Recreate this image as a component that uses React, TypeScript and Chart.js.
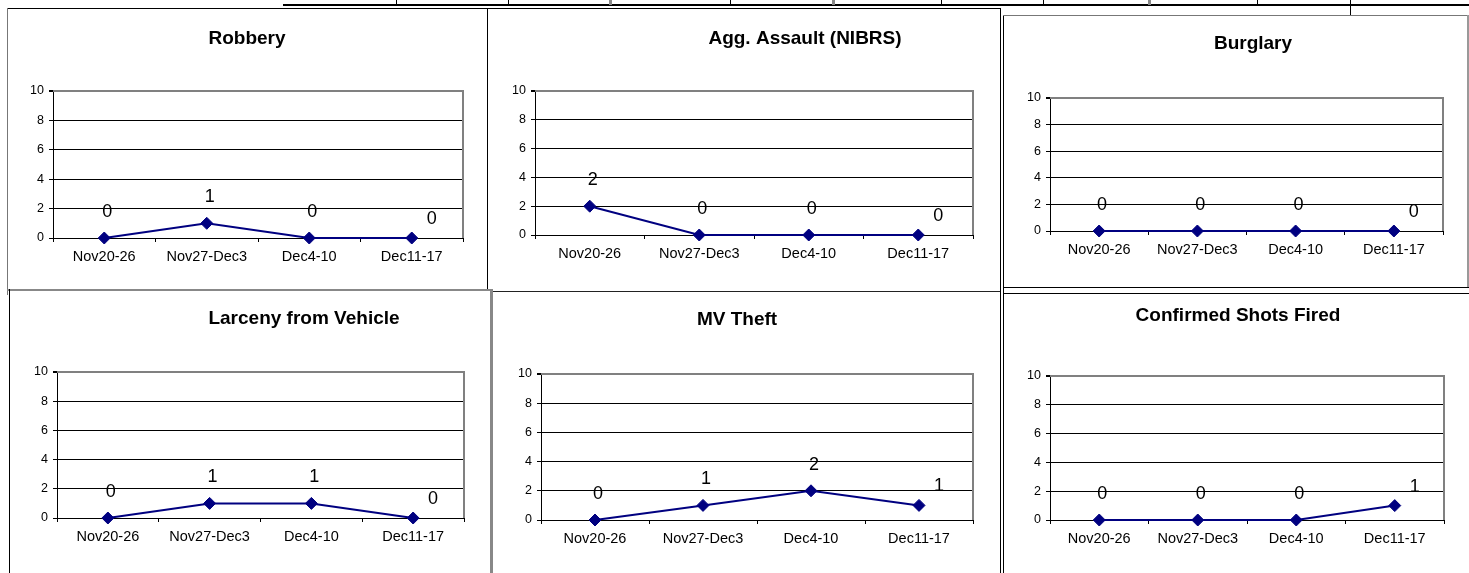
import React, { useEffect, useRef } from "react";
import { Chart, registerables } from "chart.js";

Chart.register(...registerables);

// ---- data ----
const categories = ["Nov20-26", "Nov27-Dec3", "Dec4-10", "Dec11-17"];
const robbery = [0, 1, 0, 0];
const aggAssault = [2, 0, 0, 0];
const burglary = [0, 0, 0, 0];
const larcenyFromVehicle = [0, 1, 1, 0];
const mvTheft = [0, 1, 2, 1];
const shotsFired = [0, 0, 0, 1];
const yMin = 0;
const yMax = 10;
const yStep = 2;

const FONT = "'Liberation Sans', Arial, Helvetica, sans-serif";
const NAVY = "#000080";

type Panel = {
  title: string;
  values: number[];
  box: [number, number, number, number];
  plot: [number, number, number, number];
  titlePos: [number, number];
};

const panels: Panel[] = [
  { title: "Robbery", values: robbery, box: [7, 9, 487, 289], plot: [53, 91, 463, 238], titlePos: [247, 39] },
  { title: "Agg. Assault (NIBRS)", values: aggAssault, box: [487, 9, 1000, 290], plot: [535, 91, 973, 235], titlePos: [805, 39] },
  { title: "Burglary", values: burglary, box: [1002, 15, 1468, 287], plot: [1050, 98, 1443, 231], titlePos: [1253, 44] },
  { title: "Larceny from Vehicle", values: larcenyFromVehicle, box: [9, 289, 492, 573], plot: [57, 372, 464, 518], titlePos: [304, 319] },
  { title: "MV Theft", values: mvTheft, box: [492, 291, 1000, 573], plot: [541, 374, 973, 520], titlePos: [737, 320] },
  { title: "Confirmed Shots Fired", values: shotsFired, box: [1003, 293, 1469, 573], plot: [1050, 376, 1444, 520], titlePos: [1238, 316] },
];

const Y_W = 40;
const X_H = 30;

const panelPlugin = {
  id: "panelDeco",
  beforeDatasetsDraw(chart: any) {
    const { ctx, chartArea } = chart;
    ctx.save();
    ctx.strokeStyle = "#808080";
    ctx.lineWidth = 2;
    ctx.beginPath();
    ctx.moveTo(chartArea.left, chartArea.top);
    ctx.lineTo(chartArea.right, chartArea.top);
    ctx.lineTo(chartArea.right, chartArea.bottom);
    ctx.stroke();
    ctx.restore();
  },
  afterDatasetsDraw(chart: any, _args: any, opts: any) {
    const { ctx } = chart;
    const meta = chart.getDatasetMeta(0);
    const data = chart.data.datasets[0].data;
    ctx.save();
    ctx.fillStyle = "#000";
    ctx.font = `18px ${FONT}`;
    ctx.textAlign = "center";
    ctx.textBaseline = "middle";
    const last = meta.data.length - 1;
    meta.data.forEach((el: any, i: number) => {
      const dx = i === last ? 20 : 3;
      const dy = i === last ? -19 : -26;
      ctx.fillText(String(data[i]), el.x + dx, el.y + dy);
    });
    // title
    ctx.font = `bold 19px ${FONT}`;
    ctx.fillText(opts.text, opts.x, opts.y);
    ctx.restore();
  },
};

function PanelChart({ p }: { p: Panel }) {
  const ref = useRef<HTMLCanvasElement>(null);
  const [bl, bt, br, bb] = p.box;
  const [pl, pt, pr, pb] = p.plot;
  const w = br - bl;
  const h = bb - bt;
  useEffect(() => {
    if (!ref.current) return;
    const chart = new Chart(ref.current, {
      type: "line",
      data: {
        labels: categories,
        datasets: [
          {
            data: p.values,
            borderColor: NAVY,
            backgroundColor: NAVY,
            borderWidth: 2,
            pointStyle: "rectRot",
            pointRadius: 6,
            pointBackgroundColor: NAVY,
            pointBorderColor: NAVY,
            pointBorderWidth: 1,
            tension: 0,
            clip: false as any,
          },
        ],
      },
      options: {
        responsive: false,
        animation: false,
        devicePixelRatio: 1,
        layout: {
          padding: {
            left: pl - bl - Y_W,
            top: pt - bt,
            right: br - pr,
            bottom: bb - pb - X_H,
          },
        },
        plugins: {
          legend: { display: false },
          title: { display: false },
          tooltip: { enabled: false },
          panelDeco: { text: p.title, x: p.titlePos[0] - bl, y: p.titlePos[1] - bt },
        } as any,
        scales: {
          x: {
            offset: true,
            afterFit: (s: any) => {
              s.height = X_H;
            },
            grid: {
              offset: true,
              drawOnChartArea: false,
              drawTicks: true,
              tickLength: 4,
              tickColor: "#000",
            },
            border: { color: "#000", width: 1 },
            ticks: {
              color: "#000",
              font: { family: FONT, size: 14.5 },
              padding: 6,
              maxRotation: 0,
              autoSkip: false,
            },
          },
          y: {
            min: yMin,
            max: yMax,
            afterFit: (s: any) => {
              s.width = Y_W;
            },
            grid: {
              color: (c: any) => (c.tick && c.tick.value === yMax ? "#808080" : "#000"),
              lineWidth: (c: any) => (c.tick && c.tick.value === yMax ? 2 : 1),
              drawTicks: true,
              tickLength: 4,
              tickColor: "#000",
            },
            border: { color: "#000", width: 1 },
            ticks: {
              stepSize: yStep,
              color: "#000",
              font: { family: FONT, size: 12.5 },
              padding: 5,
            },
          },
        },
      },
      plugins: [panelPlugin],
    });
    return () => chart.destroy();
  }, []);
  return (
    <div style={{ position: "absolute", left: bl, top: bt, width: w, height: h }}>
      <canvas ref={ref} width={w} height={h} style={{ display: "block", width: w, height: h }} />
    </div>
  );
}

type Ln = [number, number, number, number, string];
// decorative frame lines (x, y, w, h, color)
const frameLines: Ln[] = [
  [283, 4, 1186, 2, "#000"],
  [396, 0, 1, 5, "#000"],
  [508, 0, 1, 5, "#000"],
  [609, 0, 3, 5, "#888"],
  [730, 0, 1, 5, "#000"],
  [832, 0, 3, 5, "#888"],
  [941, 0, 1, 5, "#000"],
  [1043, 0, 1, 5, "#000"],
  [1148, 0, 3, 5, "#888"],
  [1257, 0, 1, 5, "#000"],
  [1350, 0, 1, 15, "#000"],
  [7, 8, 994, 1, "#000"],
  [7, 8, 1, 287, "#777"],
  [487, 8, 1, 281, "#000"],
  [7, 289, 485, 2, "#888"],
  [9, 289, 1, 284, "#000"],
  [490, 289, 3, 284, "#888"],
  [493, 291, 507, 1, "#222"],
  [1000, 8, 1, 565, "#000"],
  [1003, 15, 1, 558, "#000"],
  [1003, 15, 466, 1, "#777"],
  [1467, 15, 2, 272, "#999"],
  [1003, 287, 466, 1, "#000"],
  [1003, 293, 466, 1, "#000"],
];

export default function App() {
  return (
    <div
      style={{
        position: "absolute",
        left: 0,
        top: 0,
        width: 1469,
        height: 573,
        overflow: "hidden",
        background: "#fff",
      }}
    >
      {panels.map((p, i) => (
        <PanelChart key={i} p={p} />
      ))}
      {frameLines.map(([x, y, w, h, c], i) => (
        <div key={"l" + i} style={{ position: "absolute", left: x, top: y, width: w, height: h, background: c }} />
      ))}
    </div>
  );
}
